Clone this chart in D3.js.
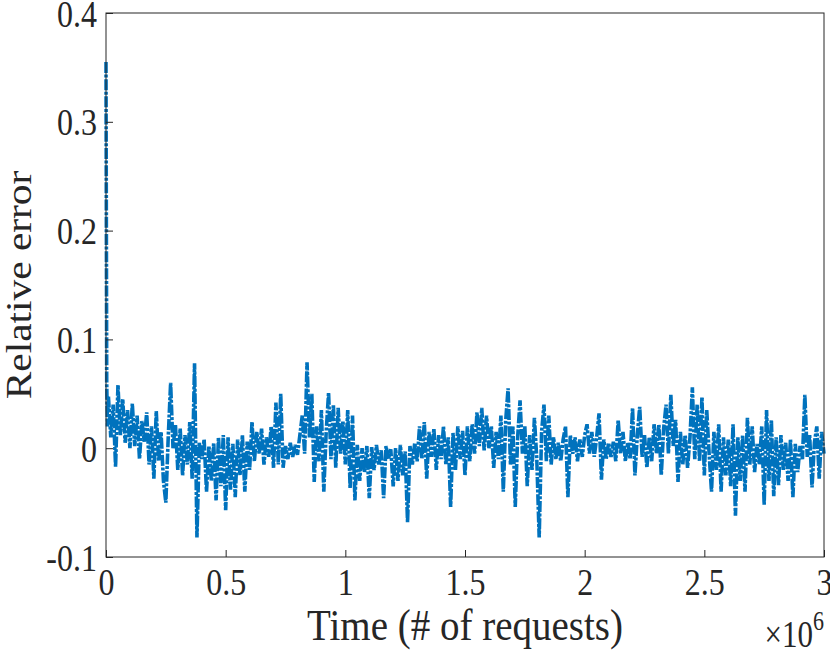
<!DOCTYPE html>
<html>
<head>
<meta charset="utf-8">
<script src="https://cdn.jsdelivr.net/npm/d3@7"></script>
<style>
  html, body { margin: 0; padding: 0; background: #fff; }
  .maping { width: 830px; height: 654px; }
  text { font-family: "Liberation Serif", "Times New Roman", serif; fill: #262626; }
</style>
</head>
<body>
<div class="maping"></div>
<script>
// relative error series, sampled every 10k requests after a short warm-up
const startT = [0, 3000, 6000];
const startErr = [0.355, 0.06, 0.02];
const stepT = 10000;

const errPart1 = [
    0.048, 0.010, 0.040, -0.017, 0.058, 0.012, 0.045, 0.005, 0.035, 0.000,
    0.041, 0.002, 0.030, -0.010, 0.025, 0.006, 0.033, -0.015, 0.020, -0.028,
    0.034, -0.012, 0.015, -0.030, -0.050, 0.010, 0.060, 0.000, 0.022, -0.020,
    0.018, -0.025, 0.012, -0.015, 0.024, -0.028, 0.078, -0.082, 0.005, -0.010,
    0.008, -0.040, 0.002, -0.030, 0.005, -0.048, 0.010, -0.035, 0.012, -0.057,
    0.010, -0.038, 0.004, -0.045, 0.008, -0.025, 0.012, -0.040, 0.006, -0.020,
    0.024, -0.012, 0.015, -0.005, 0.018, -0.015, 0.010, -0.008, 0.020, -0.018,
    0.042, -0.015, 0.050, -0.018, 0.002, -0.010, 0.005, -0.008, 0.003, -0.006,
    0.012, 0.030, -0.005, 0.079, 0.010, 0.050, -0.031, 0.020, -0.012, 0.035,
    -0.040, 0.015, 0.051, -0.010, 0.040, -0.018, 0.037, -0.005, 0.025, -0.015
];
const errPart2 = [
    0.035, -0.037, 0.030, -0.048, 0.003, -0.030, 0.000, -0.022, 0.002, -0.046,
    0.001, -0.020, 0.003, -0.015, -0.002, -0.046, 0.002, -0.010, -0.001, -0.035,
    0.000, -0.030, 0.003, -0.025, -0.003, -0.068, 0.002, -0.015, 0.005, -0.012,
    0.020, -0.010, 0.024, -0.028, 0.015, -0.008, 0.018, -0.020, 0.012, -0.010,
    0.020, -0.015, 0.010, -0.054, 0.014, -0.020, 0.020, -0.010, 0.016, -0.025,
    0.020, -0.012, 0.022, -0.005, 0.033, 0.002, 0.037, -0.002, 0.030, 0.000,
    0.020, -0.018, 0.015, -0.010, 0.030, -0.040, 0.025, 0.055, -0.015, 0.020,
    -0.054, 0.010, 0.044, -0.005, 0.020, -0.035, 0.012, -0.020, 0.028, -0.010,
    -0.082, 0.015, 0.040, -0.012, 0.030, -0.015, 0.010, -0.010, 0.005, -0.012,
    0.008, 0.020, -0.045, 0.012, -0.005, 0.010, -0.012, 0.008, -0.008, 0.012
];
const errPart3 = [
    0.022, -0.005, 0.015, -0.008, 0.010, 0.032, -0.029, 0.008, -0.010, 0.005,
    -0.008, 0.006, -0.012, 0.026, -0.005, 0.015, -0.012, 0.005, -0.010, 0.037,
    -0.025, 0.012, 0.038, -0.008, 0.012, -0.018, 0.010, -0.012, 0.022, -0.005,
    0.022, -0.025, 0.018, 0.040, -0.005, 0.049, 0.002, 0.026, -0.031, 0.015,
    -0.015, 0.012, -0.018, 0.010, 0.056, -0.010, 0.040, -0.012, 0.047, -0.025,
    0.035, -0.005, -0.040, 0.015, -0.020, 0.022, -0.040, 0.010, -0.025, 0.008,
    -0.035, 0.022, -0.062, 0.010, -0.030, 0.012, -0.040, 0.028, -0.015, 0.020,
    -0.022, 0.004, -0.015, 0.020, -0.052, 0.035, -0.030, 0.026, -0.044, 0.010,
    -0.034, 0.012, -0.020, 0.005, -0.030, 0.008, -0.045, 0.004, -0.022, 0.002,
    -0.010, 0.049, -0.008, 0.012, -0.036, 0.005, 0.020, -0.028, 0.015, -0.005
];

const xTicks = [0, 0.5e6, 1e6, 1.5e6, 2e6, 2.5e6, 3e6];
const xTickLabels = ['0', '0.5', '1', '1.5', '2', '2.5', '3'];
const yTicks = [-0.1, 0, 0.1, 0.2, 0.3, 0.4];
const yTickLabels = ['-0.1', '0', '0.1', '0.2', '0.3', '0.4'];

// build the point list
const data = [];
startT.forEach((t, i) => data.push({ t: t, e: startErr[i] }));
errPart1.concat(errPart2, errPart3).forEach((e, i) => {
    data.push({ t: (i + 1) * stepT, e: e });
});

const width = 830;
const height = 654;
const margin = { top: 13, right: 6, bottom: 97, left: 106 };
const stretch = 1.2;      // glyphs in the picture are taller than wide
const labelStretch = 1.15;

const svg = d3.select('.maping')
    .append('svg')
    .attr('width', width)
    .attr('height', height);

const x = d3.scaleLinear()
    .domain([0, 3e6])
    .range([margin.left, width - margin.right]);

const y = d3.scaleLinear()
    .domain([-0.1, 0.4])
    .range([height - margin.bottom, margin.top]);

// the series
const line = d3.line()
    .x(d => x(d.t))
    .y(d => y(d.e));

svg.append('path')
    .datum(data)
    .attr('d', line)
    .style('fill', 'none')
    .style('stroke', '#0072BD')
    .style('stroke-width', 3.6)
    .style('stroke-dasharray', '11,1.6,3,1.6')
    .style('stroke-linejoin', 'miter');

// box
svg.append('rect')
    .attr('x', x(0))
    .attr('y', y(0.4))
    .attr('width', x(3e6) - x(0))
    .attr('height', y(-0.1) - y(0.4))
    .style('fill', 'none')
    .style('stroke', '#262626')
    .style('stroke-width', 1);

// axes, ticks pointing inward
const xAxis = d3.axisBottom(x)
    .tickValues(xTicks)
    .tickFormat((d, i) => xTickLabels[i])
    .tickSizeInner(-7)
    .tickSizeOuter(0)
    .tickPadding(0);

const gx = svg.append('g')
    .attr('transform', `translate(0,${y(-0.1)})`)
    .call(xAxis);
gx.select('.domain').remove();
gx.selectAll('.tick line').style('stroke', '#262626');
gx.selectAll('.tick text')
    .attr('y', 0)
    .attr('dy', null)
    .attr('transform', `translate(0,38) scale(1,${stretch})`)
    .style('font-size', '32px')
    .style('fill', '#262626');

const yAxis = d3.axisLeft(y)
    .tickValues(yTicks)
    .tickFormat((d, i) => yTickLabels[i])
    .tickSizeInner(-7)
    .tickSizeOuter(0)
    .tickPadding(0);

const gy = svg.append('g')
    .attr('transform', `translate(${x(0)},0)`)
    .call(yAxis);
gy.select('.domain').remove();
gy.selectAll('.tick line').style('stroke', '#262626');
gy.selectAll('.tick text')
    .attr('x', 0)
    .attr('dy', null)
    .attr('transform', `translate(-9,13) scale(1,${stretch})`)
    .style('font-size', '32px')
    .style('fill', '#262626');

// labels
svg.append('text')
    .attr('transform', `translate(${(x(0) + x(3e6)) / 2},640) scale(1,${labelStretch})`)
    .attr('text-anchor', 'middle')
    .style('font-size', '39px')
    .text('Time (# of requests)');

svg.append('text')
    .attr('transform', `translate(31,${(y(-0.1) + y(0.4)) / 2}) scale(1,${labelStretch}) rotate(-90)`)
    .attr('text-anchor', 'middle')
    .style('font-size', '36px')
    .text('Relative error');

const expo = svg.append('text')
    .attr('transform', `translate(824,647) scale(1,${stretch})`)
    .attr('text-anchor', 'end')
    .style('font-size', '31px');
expo.append('tspan').text('\u00d710');
expo.append('tspan')
    .attr('dy', -14)
    .style('font-size', '22px')
    .text('6');
</script>
</body>
</html>
